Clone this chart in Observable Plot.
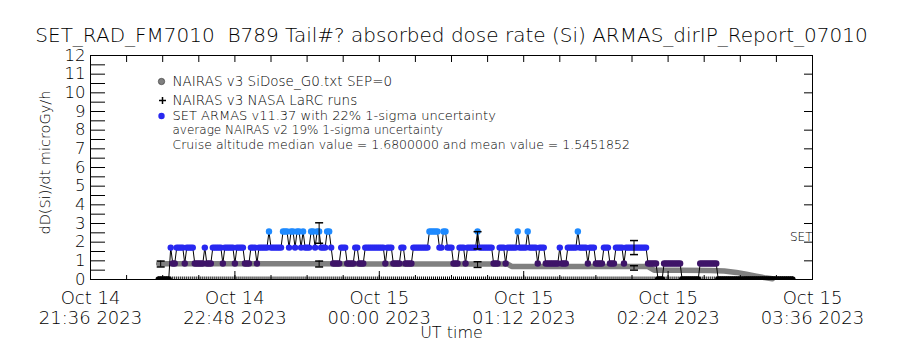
<!DOCTYPE html>
<html><head><meta charset="utf-8">
<script src="https://cdn.jsdelivr.net/npm/d3@7"></script>
<script src="https://cdn.jsdelivr.net/npm/@observablehq/plot@0.6"></script>
<style>body{margin:0;background:#fff}svg{display:block}</style>
</head><body><div id="chart"></div>
<script>
// ---------- data ----------
const titleText = "SET_RAD_FM7010\u00a0 B789 Tail#? absorbed dose rate (Si) ARMAS_dirIP_Report_07010";
const legendLabels = [
  "NAIRAS v3 SiDose_G0.txt SEP=0",
  "NAIRAS v3 NASA LaRC runs",
  "SET ARMAS v11.37 with 22% 1-sigma uncertainty",
  "average NAIRAS v2 19% 1-sigma uncertainty",
  "Cruise altitude median value = 1.6800000 and mean value = 1.5451852"
];
const yLabel = "dD(Si)/dt microGy/h";
const xLabel = "UT time";
const yTickLabels = [0,1,2,3,4,5,6,7,8,9,10,11,12];
const xTickTimes = ["21:36","22:48","00:00","01:12","02:24","03:36"];

// SET ARMAS dose-rate levels (uGy/h), one sample per minute from 22:10 UT
const armasFirstTime = "22:10";
const levelValue = {Z: 0, P: 0.86, B: 1.71, L: 2.57};
const levelColor = {Z: "#000000", P: "#3e1468", B: "#2828f0", L: "#1e8aff"};
const armasLevelCodes = [
  "ZZZZZZ","BPPBBBBPBBBB","PPPPPBPPP","BBBBBPBBBBBPBBBB","PPP","BBBPBBBBBLBBBBBB",
  "LLLBLLBLLBLBBBLLBLL","BBBLLB","PPPP","BBB","PPPP","BB","PPP","BBBBBBBBBB","P","BBB",
  "PPPP","BB","PPPP","BBBBBBBB","LLLLL","BB","LL","BBB","PPP","BBB","P","BBBBB","L",
  "BBBBBBB","PPP","BBB","P","BBBBB","L","BBBB","L","BBBB","P","BBB","PPPPPPP","B","PPP",
  "BBBBB","L","BBBB","P","BBB","PPPP","BBB","PPP","BBBB","P","BBBBBBBBBBB","PPPPP","ZZZ",
  "PPPPPPPPP","ZZZZZZZZZ","PPPPPPPPP","ZZZZZZZZZZZZZZZZZZZZZZZZZZZZZZZZZZZZZZ"
].join("");

// NAIRAS v3 SiDose model along track
const nairasTimes  = ["22:10","22:30","22:50","23:10","23:30","23:50","00:10","00:30","00:50","01:04","01:06","01:30","01:50","02:10","02:14","02:17","02:30","02:45","02:52","02:58","03:03","03:08","03:12","03:16"];
const nairasValues = [0.84,0.84,0.84,0.84,0.84,0.83,0.83,0.83,0.83,0.83,0.70,0.70,0.70,0.69,0.69,0.50,0.49,0.48,0.46,0.38,0.28,0.18,0.10,0.04];

// uncertainty bars
const errTimes = ["22:11","23:30","00:49","02:07"];
const nairasErrCenter = [0.83,0.83,0.80,0.62];
const armasErrCenter = [null,2.49,2.10,1.71];
const armasSigma = 0.22, nairasSigma = 0.19;

// ---------- helpers ----------
function t(s){ const [h,m]=s.split(":").map(Number); const day = h>=12?14:15; return new Date(Date.UTC(2023,9,day,h,m)); }
const xMin = t("21:36"), xMax = t("03:36");
const t0 = t(armasFirstTime);
const armas = armasLevelCodes.split("").map((c,i)=>({time:new Date(+t0+i*60000), value:levelValue[c], color:levelColor[c]}));
const nairas = nairasTimes.map((s,i)=>({time:t(s), value:nairasValues[i]}));
const errN = errTimes.map((s,i)=>({time:t(s), lo:nairasErrCenter[i]*(1-nairasSigma), hi:nairasErrCenter[i]*(1+nairasSigma)}));
const errA = errTimes.map((s,i)=>({time:t(s), c:armasErrCenter[i]})).filter(d=>d.c!=null).map(d=>({time:d.time, lo:d.c*(1-armasSigma), hi:d.c*(1+armasSigma)}));
const xTicks = xTickTimes.map(t);
const xMinor = d3.range(0,361,18).map(m=>new Date(+xMin+m*60000));
const yMinor = d3.range(0,12.01,0.5);
const fmt = d3.utcFormat("%b %d\n%H:%M %Y");
const plotW = 900-90-88, plotH = 350-55-71;

const capSym = {draw(ctx){ ctx.moveTo(-4,0); ctx.lineTo(4,0); }};
const upTick = {draw(ctx){ ctx.moveTo(0,0); ctx.lineTo(0,-3); }};
const plusSym = {draw(ctx){ ctx.moveTo(-3.5,0); ctx.lineTo(3.5,0); ctx.moveTo(0,-3.5); ctx.lineTo(0,3.5); }};

const defsMark = () => {
  const defs = d3.create("svg:defs");
  const p = defs.append("pattern").attr("id","chk").attr("width",2).attr("height",2).attr("patternUnits","userSpaceOnUse");
  p.append("rect").attr("width",2).attr("height",2).attr("fill","#fff");
  p.append("rect").attr("width",1).attr("height",1).attr("fill","#000");
  p.append("rect").attr("x",1).attr("y",1).attr("width",1).attr("height",1).attr("fill","#000");
  return defs.node();
};

const chart = Plot.plot({
  width: 900, height: 350,
  marginLeft: 90, marginRight: 88, marginTop: 55, marginBottom: 71,
  x: {type:"utc", domain:[xMin,xMax], axis:null},
  y: {domain:[0,12], axis:null},
  color: {type:"identity"},
  style: {fontFamily:"DejaVu Sans", fontWeight:300, background:"#fff", color:"#000"},
  marks: [
    defsMark,
    Plot.line(nairas, {x:"time", y:"value", stroke:"url(#chk)", strokeWidth:5.5}),
    Plot.line(armas, {x:"time", y:"value", stroke:"#000", strokeWidth:1}),
    Plot.dot(armas, {x:"time", y:"value", r:3.2, fill:"color", clip:true}),
    Plot.dot(armas, {x:"time", y:0, symbol:upTick, stroke:"#000", strokeWidth:1}),
    Plot.ruleX(errN, {x:"time", y1:"lo", y2:"hi", stroke:"#000"}),
    Plot.dot(errN, {x:"time", y:"lo", symbol:capSym, stroke:"#000"}),
    Plot.dot(errN, {x:"time", y:"hi", symbol:capSym, stroke:"#000"}),
    Plot.ruleX(errA, {x:"time", y1:"lo", y2:"hi", stroke:"#000"}),
    Plot.dot(errA, {x:"time", y:"lo", symbol:capSym, stroke:"#000"}),
    Plot.dot(errA, {x:"time", y:"hi", symbol:capSym, stroke:"#000"}),
    Plot.frame({stroke:"#000"}),
    Plot.tickY(yMinor, {y:d=>d, insetRight:plotW-15, stroke:"#000"}),
    Plot.tickY(yTickLabels, {y:d=>d, insetLeft:plotW-8, stroke:"#000"}),
    Plot.tickX(xMinor, {x:d=>d, insetBottom:plotH-7, stroke:"#000"}),
    Plot.tickX(xMinor, {x:d=>d, insetTop:plotH-4, stroke:"#000"}),
    Plot.tickX(xTicks, {x:d=>d, insetTop:plotH-8, stroke:"#000"}),
    Plot.text(yTickLabels, {y:d=>d, text:d=>String(d), frameAnchor:"left", dx:-5, textAnchor:"end", lineAnchor:"middle", fontSize:16.5}),
    Plot.text(xTicks, {x:d=>d, text:d=>fmt(d), frameAnchor:"bottom", dy:28.5, lineAnchor:"middle", lineHeight:1.1, fontSize:18}),
    Plot.text([titleText], {frameAnchor:"top", dy:-20, lineAnchor:"middle", fontSize:20}),
    Plot.text([yLabel], {frameAnchor:"left", dx:-45, dy:67, rotate:-90, lineAnchor:"middle", fontSize:14.5}),
    Plot.text([xLabel], {frameAnchor:"bottom", dy:53, lineAnchor:"middle", fontSize:16}),
    Plot.text(["SET"], {frameAnchor:"top-right", dy:182, textAnchor:"end", lineAnchor:"middle", fontSize:12}),
    Plot.text([legendLabels[0]], {frameAnchor:"top-left", dx:82, dy:26, textAnchor:"start", lineAnchor:"middle", fontSize:13.5}),
    Plot.text([legendLabels[1]], {frameAnchor:"top-left", dx:82, dy:45, textAnchor:"start", lineAnchor:"middle", fontSize:13.5}),
    Plot.text([legendLabels[2]], {frameAnchor:"top-left", dx:82, dy:60.5, textAnchor:"start", lineAnchor:"middle", fontSize:13}),
    Plot.text([legendLabels[3]], {frameAnchor:"top-left", dx:82, dy:75, textAnchor:"start", lineAnchor:"middle", fontSize:12}),
    Plot.text([legendLabels[4]], {frameAnchor:"top-left", dx:82, dy:89, textAnchor:"start", lineAnchor:"middle", fontSize:12.5}),
    Plot.dot([0], {frameAnchor:"top-left", dx:71, dy:26, r:3.2, fill:"url(#chk)", stroke:"#333", strokeWidth:0.6}),
    Plot.dot([0], {frameAnchor:"top-left", dx:72, dy:45, symbol:plusSym, stroke:"#000"}),
    Plot.dot([0], {frameAnchor:"top-left", dx:71, dy:60.5, r:3.2, fill:levelColor.B})
  ]
});
document.getElementById("chart").append(chart);
</script>
</body></html>
